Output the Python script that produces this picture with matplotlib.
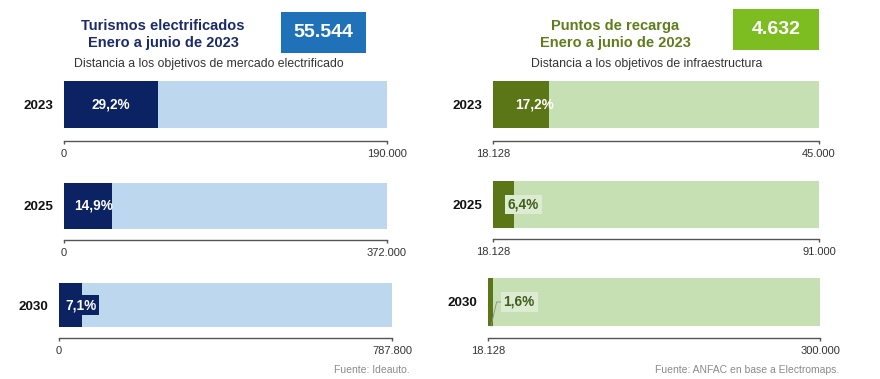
import matplotlib
matplotlib.use("Agg")
import matplotlib.pyplot as plt
from matplotlib.patches import Rectangle

plt.rcParams['font.family'] = ['Liberation Sans', 'DejaVu Sans']

# ---------------- data ----------------
years = ["2023", "2025", "2030"]

left_title = "Turismos electrificados\nEnero a junio de 2023"
left_value = 55544
left_value_label = "55.544"
left_subtitle = "Distancia a los objetivos de mercado electrificado"
left_min = [0, 0, 0]
left_target = [190000, 372000, 787800]
left_pct_labels = ["29,2%", "14,9%", "7,1%"]
left_source = "Fuente: Ideauto."

right_title = "Puntos de recarga\nEnero a junio de 2023"
right_value = 4632
right_value_label = "4.632"
right_subtitle = "Distancia a los objetivos de infraestructura"
right_min = [18128, 18128, 18128]
right_target = [45000, 91000, 300000]
right_pct_labels = ["17,2%", "6,4%", "1,6%"]
right_source = "Fuente: ANFAC en base a Electromaps."

# ---------------- style ----------------
W, H = 880, 379
NAVY = "#0b2263"
LBLUE = "#bdd7ee"
OLIVE = "#5b7616"
LGREEN = "#c6e0b4"
LGREEN_BOX = "#dcebd1"
TITLE_BLUE = "#1b2a6b"
TITLE_GREEN = "#5f7d1b"
BOX_BLUE = "#1f72b8"
BOX_GREEN = "#7ebd22"
PCT_SIZE = 9.8

fig = plt.figure(figsize=(W / 100, H / 100), dpi=100)
fig.patch.set_facecolor("white")


def fmt(v):
    return f"{v:,.0f}".replace(",", ".")


def px_rect(x0, x1, top, bottom):
    return [x0 / W, 1 - bottom / H, (x1 - x0) / W, (bottom - top) / H]


# layout (pixels): x0, x1, bar top, bar bottom, axis line
left_geo = [(64, 387, 81, 128, 141), (64, 387, 183, 229, 240), (59, 392, 283, 327, 338)]
right_geo = [(493, 819, 81, 128, 141), (493, 819, 181, 228, 239), (488, 820, 278, 326, 338)]


def draw_panel(geo, mins, targets, value, labels, dark, light, side):
    for i, (x0, x1, top, bb, axy) in enumerate(geo):
        ax = fig.add_axes(px_rect(x0, x1, top, axy))
        bar_h = bb - top
        gap = axy - bb
        ax.set_ylim(-0.5 - gap / bar_h, 0.5)
        ax.set_xlim(mins[i], targets[i])
        ax.barh([0], [targets[i] - mins[i]], left=mins[i], height=1.0,
                color=light, edgecolor="none")
        ax.barh([0], [value], left=mins[i], height=1.0, color=dark,
                edgecolor="none")
        frac = value / (targets[i] - mins[i])
        xm = mins[i]
        span = targets[i] - mins[i]
        if side == "left":
            if frac > 0.2:
                ax.text(xm + value / 2, 0, labels[i], color="white",
                        fontsize=PCT_SIZE, fontweight="bold", ha="center", va="center")
            elif frac > 0.1:
                ax.text(xm + span * 0.030, 0, labels[i], color="white",
                        fontsize=PCT_SIZE, fontweight="bold", ha="left", va="center")
            else:
                ax.text(xm + span * 0.018, 0, labels[i], color="white",
                        fontsize=PCT_SIZE, fontweight="bold", ha="left", va="center",
                        bbox=dict(boxstyle="square,pad=0.2", fc=dark, ec="none"))
        else:
            if frac > 0.1:
                ax.text(xm + span * 0.068, 0, labels[i], color="white",
                        fontsize=PCT_SIZE, fontweight="bold", ha="left", va="center")
            else:
                ax.text(xm + span * (0.045 if frac > 0.03 else 0.047), 0,
                        labels[i], color="#3f5f1a",
                        fontsize=PCT_SIZE, fontweight="bold", ha="left", va="center",
                        bbox=dict(boxstyle="square,pad=0.22", fc=LGREEN_BOX, ec="none"))
                if frac < 0.03:
                    ax.plot([xm + span * 0.009, xm + span * 0.026, xm + span * 0.04],
                            [-0.5, 0.0, 0.0], color="#8a8a8a", lw=0.6)
        for s in ["top", "left", "right"]:
            ax.spines[s].set_visible(False)
        ax.spines["bottom"].set_color("#555555")
        ax.spines["bottom"].set_linewidth(1.0)
        ax.set_xticks([mins[i], targets[i]])
        ax.set_xticklabels([fmt(mins[i]), fmt(targets[i])])
        ax.tick_params(axis="x", direction="out", length=2.5, width=1.0,
                       color="#555555", labelsize=8, labelcolor="#333333", pad=3)
        ax.set_yticks([0])
        ax.set_yticklabels([years[i]])
        ax.tick_params(axis="y", length=0, pad=8, labelsize=9.6)
        for t in ax.get_yticklabels():
            t.set_fontweight("bold")
            t.set_color("#111111")
        ax.set_facecolor("none")


draw_panel(left_geo, left_min, left_target, left_value, left_pct_labels, NAVY, LBLUE, "left")
draw_panel(right_geo, right_min, right_target, right_value, right_pct_labels, OLIVE, LGREEN, "right")

# titles
fig.text(163 / W, 1 - 34.5 / H, left_title, ha="center", va="center",
         fontsize=10.5, fontweight="bold", color=TITLE_BLUE, linespacing=1.3)
fig.text(615 / W, 1 - 34.5 / H, right_title, ha="center", va="center",
         fontsize=10.5, fontweight="bold", color=TITLE_GREEN, linespacing=1.3)

# value boxes
fig.patches.append(Rectangle((281 / W, 1 - 53 / H), 85 / W, 41 / H,
                             transform=fig.transFigure, fc=BOX_BLUE, ec="none"))
fig.text(323.5 / W, 1 - 32.5 / H, left_value_label, ha="center", va="center",
         fontsize=14, fontweight="bold", color="white")
fig.patches.append(Rectangle((733 / W, 1 - 50 / H), 86 / W, 41 / H,
                             transform=fig.transFigure, fc=BOX_GREEN, ec="none"))
fig.text(776 / W, 1 - 29.5 / H, right_value_label, ha="center", va="center",
         fontsize=14, fontweight="bold", color="white")

# subtitles
fig.text(209 / W, 1 - 64 / H, left_subtitle, ha="center", va="center",
         fontsize=8.8, color="#333333")
fig.text(647 / W, 1 - 64 / H, right_subtitle, ha="center", va="center",
         fontsize=8.8, color="#333333")

# sources
fig.text(410 / W, 1 - 370 / H, left_source, ha="right", va="center",
         fontsize=7.5, color="#8a8a8a")
fig.text(839 / W, 1 - 370 / H, right_source, ha="right", va="center",
         fontsize=7.5, color="#8a8a8a")

fig.savefig("out.png", dpi=100, facecolor="white")
